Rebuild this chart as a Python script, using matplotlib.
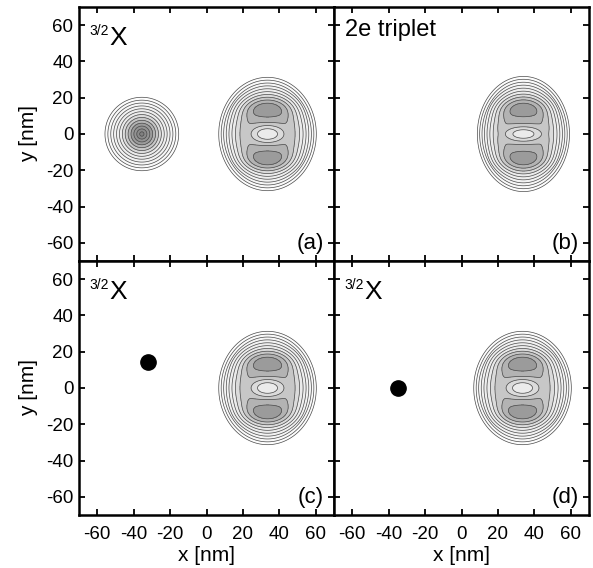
import numpy as np
import matplotlib.pyplot as plt
from matplotlib.colors import LinearSegmentedColormap

plt.rcParams['font.family'] = ['Liberation Sans', 'DejaVu Sans']
plt.rcParams['axes.unicode_minus'] = False

# axis range and ticks (nm)
lim = 70
ticks = [-60, -40, -20, 0, 20, 40, 60]

# panel labels and headings
panel_tags = ['(a)', '(b)', '(c)', '(d)']
panel_heads = ['X', '2e triplet', 'X', 'X']
head_sup = ['3/2', '', '3/2', '3/2']

# hole: spread-out cloud in (a), point charge in (c) and (d)
hole_kind = ['cloud', None, 'dot', 'dot']
hole_x = [-35.5, None, -32.0, -35.0]
hole_y = [0.0, None, 14.5, 0.0]
hole_radius = 20.5
hole_height = 1.55

# electron pair density, one set per panel
pair_x0 = [33.5, 34.0, 33.5, 33.5]
pair_ax = [27.0, 25.5, 27.0, 27.0]
pair_ay = [31.5, 32.0, 31.5, 31.5]
ramp_w = 0.62
lobe_y = 14.3
lobe_amp = [0.26, 0.25, 0.26, 0.26]
lobe_wx = 14.0
lobe_wy = 6.3
dip_amp = [0.28, 0.27, 0.28, 0.28]
dip_wx = [9.0, 10.0, 9.0, 9.0]
dip_wy = [5.0, 4.2, 5.0, 5.0]

levels = np.arange(0.02, 1.6, 0.12)
gray_vals = [0.0, 0.68, 0.80, 0.92, 1.04, 1.16, 1.55]
gray_tone = [1.0, 0.92, 0.86, 0.78, 0.70, 0.61, 0.5]


def pair_density(X, Y, i):
    u = X - pair_x0[i]
    s = np.sqrt((u / pair_ax[i])**2 + (Y / pair_ay[i])**2)
    ramp = np.clip((1 - s) / ramp_w, 0, 1)
    env = 0.96 * np.sin(np.pi / 2 * ramp)
    lobes = lobe_amp[i] * np.exp(-(u / lobe_wx)**2) * (
        np.exp(-((Y - lobe_y) / lobe_wy)**2) + np.exp(-((Y + lobe_y) / lobe_wy)**2))
    q = (u / dip_wx[i])**2 + (Y / dip_wy[i])**2
    dip = dip_amp[i] * np.exp(-q**1.5)
    return np.clip(env + lobes * (env > 0.3) - dip, 0, None)


def cloud_density(X, Y):
    r = np.hypot(X - hole_x[0], Y - hole_y[0])
    return hole_height * np.clip(1 - r / hole_radius, 0, None)


vmax = gray_vals[-1]
grays = LinearSegmentedColormap.from_list(
    'g', [(v / vmax, (t, t, t)) for v, t in zip(gray_vals, gray_tone)])

xs = np.linspace(-lim, lim, 401)
X, Y = np.meshgrid(xs, xs)

fig = plt.figure(figsize=(5.93, 5.68), dpi=100)
left, width = 79 / 593, 255 / 593
bottom, height = 53 / 568, 254 / 568
positions = [(left, bottom + height), (left + width, bottom + height),
             (left, bottom), (left + width, bottom)]

for i, (x0, y0) in enumerate(positions):
    ax = fig.add_axes([x0, y0, width, height])
    Z = pair_density(X, Y, i)
    if hole_kind[i] == 'cloud':
        Z = Z + cloud_density(X, Y)
    ax.contourf(X, Y, Z, levels=levels, cmap=grays, vmin=0, vmax=vmax, extend='max')
    ax.contour(X, Y, Z, levels=levels, colors='#4a4a4a', linewidths=0.5)
    if hole_kind[i] == 'dot':
        ax.plot(hole_x[i], hole_y[i], 'o', color='black', ms=11)

    ax.set_xlim(-lim, lim)
    ax.set_ylim(-lim, lim)
    ax.set_xticks(ticks)
    ax.set_yticks(ticks)
    ax.tick_params(direction='in', top=True, right=True, length=4, width=1.3,
                   labelsize=13.5)
    ax.tick_params(axis='y', pad=4)
    ax.tick_params(axis='x', pad=8)
    for s in ax.spines.values():
        s.set_linewidth(1.8)
    if i % 2 == 1:
        ax.tick_params(labelleft=False)
    else:
        ax.set_ylabel('y [nm]', fontsize=15, labelpad=6)
    if i < 2:
        ax.tick_params(labelbottom=False)
    else:
        ax.set_xlabel('x [nm]', fontsize=15, labelpad=2)

    if head_sup[i]:
        ax.text(0.04, 0.932, head_sup[i], transform=ax.transAxes, fontsize=10,
                ha='left', va='top')
        ax.text(0.12, 0.85, panel_heads[i], transform=ax.transAxes, fontsize=19,
                ha='left', va='baseline')
    else:
        ax.text(0.043, 0.91, panel_heads[i], transform=ax.transAxes, fontsize=17,
                ha='left', va='center')
    ax.text(0.96, 0.07, panel_tags[i], transform=ax.transAxes, fontsize=16,
            ha='right', va='center')

fig.savefig('out.png', dpi=100)
